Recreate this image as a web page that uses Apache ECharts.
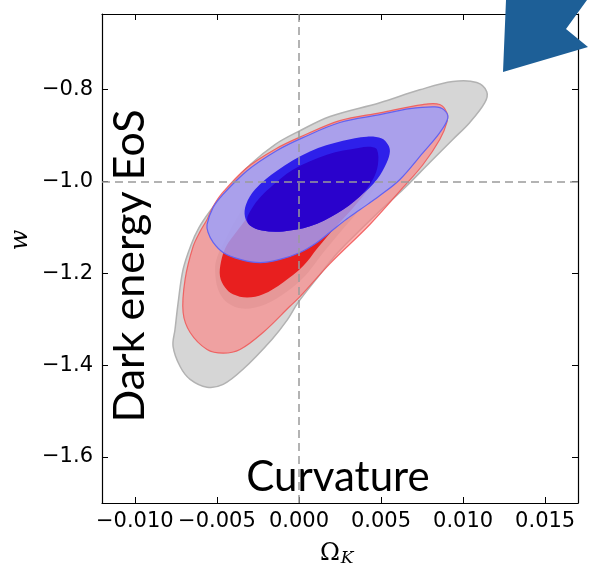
<!DOCTYPE html>
<html>
<head>
<meta charset="utf-8">
<script src="https://cdn.jsdelivr.net/npm/echarts@6/dist/echarts.min.js"></script>
<style>
  html, body { margin: 0; padding: 0; background: #ffffff; }
  #chart { width: 597px; height: 573px; }
</style>
</head>
<body>
<div id="chart"></div>
<script>
// Confidence regions in the (Omega_K, w) plane, each given as [Omega_K, w] vertices.
const grayOuter = [
  [0.01144, -0.805], [0.01132, -0.829], [0.01041, -0.872], [0.00937, -0.909], [0.00797, -0.959],
  [0.00645, -1.014], [0.00554, -1.044], [0.00396, -1.098], [0.00237, -1.155], [0.00103, -1.214],
  [-0.00006, -1.264], [-0.00070, -1.301], [-0.00165, -1.344], [-0.00341, -1.409], [-0.00462, -1.442],
  [-0.00560, -1.448], [-0.00663, -1.431], [-0.00724, -1.403], [-0.00767, -1.359], [-0.00755, -1.322],
  [-0.00736, -1.264], [-0.00706, -1.192], [-0.00657, -1.138], [-0.00609, -1.101], [-0.00548, -1.068],
  [-0.00438, -1.018], [-0.00298, -0.964], [-0.00146, -0.920], [0.00006, -0.890], [0.00189, -0.859],
  [0.00493, -0.829], [0.00736, -0.801], [0.00937, -0.783], [0.01083, -0.785]
];
const grayInner = [
  [-0.00511, -1.192], [-0.00493, -1.235], [-0.00438, -1.264], [-0.00341, -1.277], [-0.00207, -1.268],
  [-0.00073, -1.240], [0.00049, -1.201], [0.00140, -1.159], [0.00243, -1.114], [0.00359, -1.066],
  [0.00456, -1.018], [0.00523, -0.970], [0.00554, -0.935], [0.00535, -0.918], [0.00402, -0.912],
  [0.00170, -0.927], [-0.00055, -0.959], [-0.00249, -1.014], [-0.00359, -1.068], [-0.00450, -1.127],
  [-0.00499, -1.166]
];
const redOuter = [
  [0.00901, -0.851], [0.00901, -0.872], [0.00858, -0.909], [0.00755, -0.964], [0.00633, -1.014],
  [0.00432, -1.094], [0.00189, -1.179], [0.00006, -1.251], [-0.00055, -1.272], [-0.00219, -1.329],
  [-0.00359, -1.366], [-0.00462, -1.374], [-0.00560, -1.366], [-0.00663, -1.329], [-0.00706, -1.285],
  [-0.00694, -1.214], [-0.00645, -1.142], [-0.00602, -1.109], [-0.00560, -1.083], [-0.00523, -1.055],
  [-0.00475, -1.029], [-0.00323, -0.972], [-0.00140, -0.929], [0.00024, -0.901], [0.00249, -0.868],
  [0.00493, -0.851], [0.00755, -0.833], [0.00858, -0.833]
];
const redInner = [
  [0.00505, -0.931], [0.00481, -0.922], [0.00432, -0.922], [0.00371, -0.925], [0.00170, -0.940],
  [-0.00037, -0.972], [-0.00225, -1.027], [-0.00316, -1.079], [-0.00383, -1.111], [-0.00444, -1.142],
  [-0.00475, -1.175], [-0.00481, -1.207], [-0.00450, -1.231], [-0.00402, -1.246], [-0.00316, -1.253],
  [-0.00219, -1.246], [-0.00097, -1.220], [0.00024, -1.185], [0.00116, -1.144], [0.00219, -1.101],
  [0.00341, -1.053], [0.00432, -1.012], [0.00493, -0.970]
];
const blueOuter = [
  [-0.00523, -1.057], [-0.00469, -1.031], [-0.00316, -0.977], [-0.00134, -0.933], [0.00024, -0.905],
  [0.00249, -0.872], [0.00493, -0.855], [0.00675, -0.842], [0.00828, -0.838], [0.00882, -0.844],
  [0.00907, -0.862], [0.00858, -0.894], [0.00755, -0.938], [0.00615, -0.996], [0.00493, -1.031],
  [0.00371, -1.062], [0.00280, -1.085], [0.00189, -1.111], [0.00110, -1.133], [0.00006, -1.155],
  [-0.00116, -1.170], [-0.00237, -1.177], [-0.00359, -1.170], [-0.00462, -1.155], [-0.00523, -1.133],
  [-0.00554, -1.111], [-0.00560, -1.094]
];
const blueInner = [
  [0.00542, -0.920], [0.00505, -0.907], [0.00414, -0.903], [0.00268, -0.912], [0.00067, -0.935],
  [-0.00134, -0.977], [-0.00268, -1.018], [-0.00323, -1.051], [-0.00329, -1.077], [-0.00298, -1.096],
  [-0.00225, -1.107], [-0.00097, -1.109], [0.00067, -1.098], [0.00231, -1.070], [0.00371, -1.033],
  [0.00475, -0.996], [0.00535, -0.959], [0.00554, -0.935]
];
// overlap of the blue inner region with the red inner region
const blueCore = [
  [0.00475, -0.931], [0.00432, -0.925], [0.00371, -0.927], [0.00170, -0.942], [-0.00037, -0.975],
  [-0.00176, -1.014], [-0.00249, -1.040], [-0.00298, -1.066], [-0.00316, -1.083], [-0.00298, -1.096],
  [-0.00225, -1.107], [-0.00097, -1.109], [0.00067, -1.098], [0.00231, -1.070], [0.00371, -1.033],
  [0.00450, -0.996], [0.00481, -0.964]
];

// Reference model: flat geometry, cosmological constant
const refOmegaK = 0;
const refW = -1;

// Axes
const xMin = -0.012, xMax = 0.017;
const yMin = -1.7, yMax = -0.636;
const xTicks = [-0.010, -0.005, 0.000, 0.005, 0.010, 0.015];
const xTickLabels = ['\u22120.010', '\u22120.005', '0.000', '0.005', '0.010', '0.015'];
const yTicks = [-1.6, -1.4, -1.2, -1.0, -0.8];
const yTickLabels = ['\u22121.6', '\u22121.4', '\u22121.2', '\u22121.0', '\u22120.8'];

function labelFor(ticks, labels, v) {
  for (let i = 0; i < ticks.length; i++) {
    if (Math.abs(ticks[i] - v) < 1e-9) return labels[i];
  }
  return '';
}

const tickFont = { fontFamily: 'DejaVu Sans', fontSize: 21, color: '#000000' };

function xAxisDef(position, withLabels) {
  return {
    type: 'value', position, min: xMin, max: xMax,
    axisLine: { show: true, onZero: false, lineStyle: { color: '#000000', width: 1.2 } },
    axisTick: { show: true, inside: true, length: 6, customValues: xTicks, lineStyle: { color: '#000000', width: 1 } },
    axisLabel: Object.assign({ show: withLabels, customValues: xTicks, margin: 8,
      formatter: v => labelFor(xTicks, xTickLabels, v) }, tickFont),
    splitLine: { show: false }
  };
}
function yAxisDef(position, withLabels) {
  return {
    type: 'value', position, min: yMin, max: yMax,
    axisLine: { show: true, onZero: false, lineStyle: { color: '#000000', width: 1.2 } },
    axisTick: { show: true, inside: true, length: 6, customValues: yTicks, lineStyle: { color: '#000000', width: 1 } },
    axisLabel: Object.assign({ show: withLabels, customValues: yTicks, margin: 9,
      formatter: v => labelFor(yTicks, yTickLabels, v) }, tickFont),
    splitLine: { show: false }
  };
}

// One filled contour region drawn as a smoothed polygon through the axis scales
function region(name, pts, fill, stroke, lineWidth) {
  return {
    type: 'custom', name, silent: true, clip: true, z: 2,
    data: pts,
    encode: { x: 0, y: 1 },
    renderItem(params, api) {
      if (params.dataIndex !== 0) return null;
      const points = pts.map(p => api.coord(p));
      return {
        type: 'polygon',
        shape: { points, smooth: 0.35 },
        style: { fill, stroke: stroke || 'none', lineWidth: lineWidth || 0 }
      };
    }
  };
}

const chart = echarts.init(document.getElementById('chart'), null, { renderer: 'canvas' });

chart.setOption({
  animation: false,
  backgroundColor: '#ffffff',
  grid: { left: 102, right: 19, top: 14, bottom: 70 },
  xAxis: [xAxisDef('bottom', true), xAxisDef('top', false)],
  yAxis: [yAxisDef('left', true), yAxisDef('right', false)],
  series: [
    region('grayOuter', grayOuter, '#d6d6d6', '#b2b2b2', 1.5),
    region('grayInner', grayInner, '#c0c0c0', null, 0),
    region('redOuter', redOuter, 'rgba(255,125,125,0.6)', 'rgba(240,85,85,0.85)', 1.2),
    region('redInner', redInner, '#e81f1f', null, 0),
    region('blueOuter', blueOuter, 'rgba(155,160,251,0.82)', '#6262f2', 1.2),
    region('blueInner', blueInner, '#2e20ea', null, 0),
    region('blueCore', blueCore, '#2a02cc', null, 0),
    {
      type: 'line', name: 'reference', z: 5, silent: true,
      data: [[refOmegaK, refW]], showSymbol: false, symbol: 'none',
      lineStyle: { opacity: 0 },
      markLine: {
        silent: true, symbol: 'none', label: { show: false },
        lineStyle: { type: [8, 5], color: '#9a9a9a', width: 1.5 },
        data: [{ xAxis: refOmegaK }, { yAxis: refW }]
      }
    }
  ],
  graphic: [
    {
      type: 'text', x: 130, y: 266, rotation: Math.PI / 2, z: 20,
      style: { text: 'Dark energy EoS', font: '43px Lato', fill: '#000000',
        textAlign: 'center', textVerticalAlign: 'middle' }
    },
    {
      type: 'text', x: 338, y: 477, z: 20,
      style: { text: 'Curvature', font: '42px Lato', fill: '#000000',
        textAlign: 'center', textVerticalAlign: 'middle' }
    },
    {
      type: 'text', x: 21, y: 240, rotation: Math.PI / 2, z: 20,
      style: { text: 'w', font: 'italic 24px "DejaVu Serif"', fill: '#000000',
        textAlign: 'center', textVerticalAlign: 'middle' }
    },
    {
      type: 'text', x: 330, y: 554, z: 20,
      style: { text: '\u03A9', font: '24px "DejaVu Serif"', fill: '#000000',
        textAlign: 'center', textVerticalAlign: 'middle' }
    },
    {
      type: 'text', x: 347, y: 559, z: 20,
      style: { text: 'K', font: 'italic 17px "DejaVu Serif"', fill: '#000000',
        textAlign: 'center', textVerticalAlign: 'middle' }
    },
    {
      type: 'polygon', z: 30,
      shape: { points: [[506, 0], [587, 0], [566, 29], [588, 47], [503, 72]] },
      style: { fill: '#1d5f97' }
    }
  ]
});
</script>
</body>
</html>
